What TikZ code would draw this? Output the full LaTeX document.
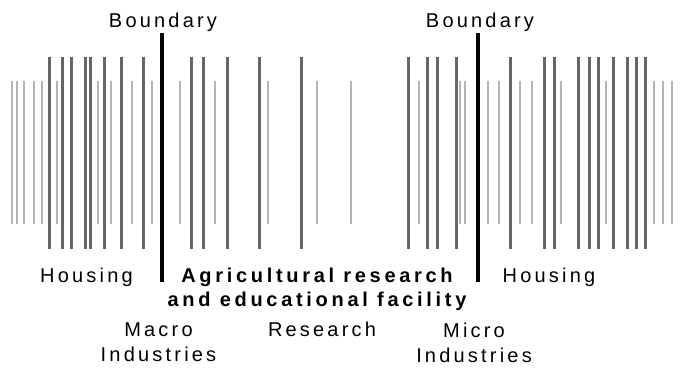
\documentclass[tikz,border=0pt]{standalone}
\usepackage{fontspec}
\setmainfont{Liberation Sans}[LetterSpace=16,BoldFeatures={LetterSpace=18.5}]
\usepackage{tikz}
\definecolor{barDark}{HTML}{666666}
\definecolor{barLight}{HTML}{B4B4B4}

\begin{document}
\begin{tikzpicture}[x=1pt,y=-1pt,
    font=\fontsize{20}{25}\selectfont,
    dark/.style={draw=barDark,line width=3pt},
    light/.style={draw=barLight,line width=2pt},
    boundline/.style={draw=black,line width=4pt},
    lbl/.style={anchor=base,inner sep=0pt,align=center}]
  \useasboundingbox (0,0) rectangle (680,370);
  % short light bars
  \foreach \x in {11.7,16.7,24.3,33.7,41.7,56.7,97.7,110.7,132.3,152,180.3,215,
                  268,317,351,419.3,460,465,487.5,499,520,532,561,606.3,654,663,672.3}
    \draw[light] (\x,80.5) -- (\x,224);
  % long dark bars
  \foreach \x in {49.3,62.7,71,85,90,104.7,121.7,143.3,191.7,203.7,227,259.7,301.3,
                  408,427.7,437.7,456.3,510.3,544,554.7,578.7,589,598.3,613,627,636,645.7}
    \draw[dark] (\x,56.7) -- (\x,249.3);
  % boundaries
  \coordinate (bl top) at (161.7,33);
  \coordinate (bl bot) at (161.7,282);
  \coordinate (br top) at (478.3,33);
  \coordinate (br bot) at (478.3,282);
  \draw[boundline] (bl top) -- (bl bot);
  \draw[boundline] (br top) -- (br bot);
  % labels (base = baseline of the last line)
  \node[lbl] (bndL) at (163,27.5) {Boundary};
  \node[lbl] (bndR) at (480,27.5) {Boundary};
  \node[lbl] (houseL) at (86.5,282) {Housing};
  \node[lbl] (houseR) at (549,282) {Housing};
  \node[lbl,font=\fontsize{20}{23.5}\selectfont\bfseries] (facility) at (317,306)
    {Agricultural research\\and educational facility};
  \node[lbl] (macro) at (158.5,361) {Macro\\Industries};
  \node[lbl] (research) at (322,336) {Research};
  \node[lbl] (micro) at (474,362) {Micro\\Industries};
\end{tikzpicture}
\end{document}
